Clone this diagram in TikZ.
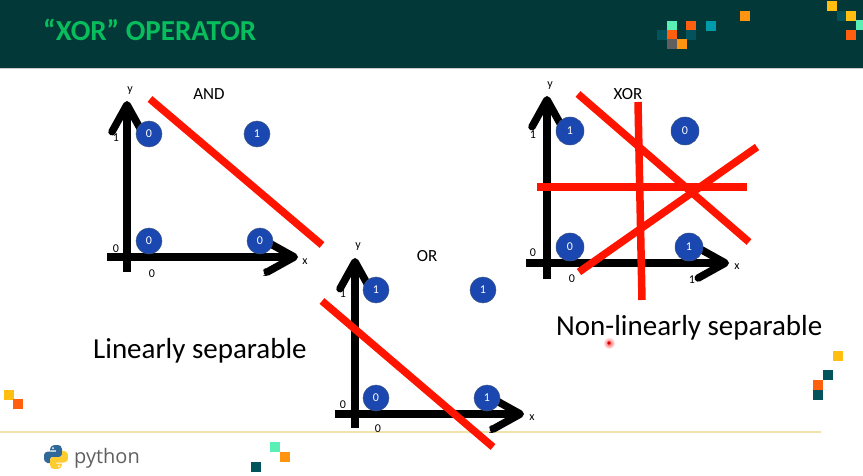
\documentclass[tikz,border=0pt]{standalone}
\usepackage{fontspec}
\setmainfont{Carlito}
\newfontfamily\logofont{Open Sans}
\usetikzlibrary{arrows.meta}
\definecolor{xhead}{RGB}{2,56,56}
\definecolor{xtitle}{RGB}{8,190,92}
\definecolor{xbit}{RGB}{27,71,176}
\definecolor{xbitedge}{RGB}{60,85,130}
\definecolor{xred}{RGB}{255,20,0}
\definecolor{xrule}{RGB}{240,228,170}
\definecolor{xmint}{RGB}{90,240,181}
\definecolor{xfire}{RGB}{255,95,15}
\definecolor{xamber}{RGB}{255,148,16}
\definecolor{xgold}{RGB}{255,190,16}
\definecolor{xteal}{RGB}{0,155,170}
\definecolor{xdeep}{RGB}{2,83,92}
\definecolor{xgrey}{RGB}{95,95,95}
\definecolor{pyblue}{RGB}{48,105,152}
\definecolor{pyyellow}{RGB}{255,204,48}
\tikzset{
  axisline/.style={line width=7.5pt,-{Straight Barb[round,length=27pt,width=30pt]}},
  cutline/.style={xred,line width=7.5pt},
  bitnode/.style={circle,fill=xbit,draw=xbitedge,line width=0.5pt,text=white,minimum size=26pt,inner sep=0pt,font=\fontsize{12}{14}\selectfont},
  ticklabel/.style={inner sep=0pt,font=\fontsize{12}{14}\selectfont},
  namelabel/.style={inner sep=0pt,font=\fontsize{17}{20}\selectfont},
  biglabel/.style={inner sep=0pt,font=\fontsize{29}{35}\selectfont},
  pixel/.style={minimum size=9.7pt,inner sep=0pt,anchor=north west}
}
\begin{document}
\begin{tikzpicture}[x=1pt,y=-1pt]
  \useasboundingbox (0,0) rectangle (863,476);
  % header band
  \fill[xhead] (0,0) rectangle (863,68);
  \fill[black!20] (0,68) rectangle (863,69);
  \node[anchor=base west,inner sep=0pt,text=xtitle,font=\fontsize{29}{34}\selectfont\bfseries] (title) at (43,41) {“XOR” OPERATOR};
  \coordinate (ruleL) at (0,432);
  \coordinate (ruleR) at (821,432);
  \draw[xrule,line width=1.3pt] (ruleL) -- (ruleR);
  % little squares
  \foreach \px/\py/\pc in {667/21/xmint,686/21/xfire,706/21/xteal,740/11/xamber,657/30/xdeep,
    667/30/xfire,686/30/xdeep,667/39/xgrey,677/39/xamber,827/1/xgold,837/11/xdeep,846/11/xgold,
    856/20/xmint,846/30/xfire,4/390/xgold,13/399/xfire,833/351/xgold,823/370/xdeep,813/380/xfire,
    813/390/xdeep,270/442/xmint,280/452/xamber,251/462/xdeep}
    \node[pixel,fill=\pc] at (\px,\py) {};
  % AND
  \coordinate (andB) at (127,272);
  \coordinate (andT) at (127,101);
  \coordinate (andL) at (107,257);
  \coordinate (andR) at (298,257);
  \draw[axisline] (andB) -- (andT);
  \draw[axisline] (andL) -- (andR);
  \node[bitnode] (and01) at (149,134) {0};
  \node[bitnode] (and11) at (257,134) {1};
  \node[bitnode] (and00) at (149,241) {0};
  \node[bitnode] (and10) at (260,241) {0};
  \node[ticklabel] (andy) at (130,91) {y};
  \node[namelabel] (andname) at (209,94) {AND};
  \node[ticklabel] (andv1) at (116,138) {1};
  \node[ticklabel] (andv0) at (116,249) {0};
  \node[ticklabel] (andh0) at (152,274) {0};
  \node[ticklabel] (andh1) at (265,273) {1};
  \node[ticklabel] (andx) at (305,262) {x};
  \coordinate (andcutA) at (150,99);
  \coordinate (andcutB) at (322,245);
  \draw[cutline] (andcutA) -- (andcutB);
  % OR
  \coordinate (orB) at (355,428);
  \coordinate (orT) at (355,258);
  \coordinate (orL) at (335,414);
  \coordinate (orR) at (524,414);
  \draw[axisline] (orB) -- (orT);
  \draw[axisline] (orL) -- (orR);
  \node[bitnode] (or01) at (376,290) {1};
  \node[bitnode] (or11) at (483,290) {1};
  \node[bitnode] (or00) at (376,398) {0};
  \node[bitnode] (or10) at (487,398) {1};
  \node[ticklabel] (ory) at (358,247) {y};
  \node[namelabel] (orname) at (427,256) {OR};
  \node[ticklabel] (orv1) at (343,294) {1};
  \node[ticklabel] (orv0) at (343,405) {0};
  \node[ticklabel] (orh0) at (378,429) {0};
  \node[ticklabel] (orh1) at (491,430) {1};
  \node[ticklabel] (orx) at (532,418) {x};
  \coordinate (orcutA) at (322,301);
  \coordinate (orcutB) at (493,447);
  \draw[cutline] (orcutA) -- (orcutB);
  % XOR
  \coordinate (xorB) at (547,279);
  \coordinate (xorT) at (547,96);
  \coordinate (xorL) at (526,263);
  \coordinate (xorR) at (729,263);
  \draw[axisline] (xorB) -- (xorT);
  \draw[axisline] (xorL) -- (xorR);
  \node[bitnode,minimum size=28pt] (xor01) at (570,131) {1};
  \node[bitnode,minimum size=28pt] (xor11) at (685,131) {0};
  \node[bitnode,minimum size=28pt] (xor00) at (570,247) {0};
  \node[bitnode,minimum size=28pt] (xor10) at (689,247) {1};
  \node[ticklabel] (xory) at (550,86) {y};
  \node[namelabel] (xorname) at (628,94) {XOR};
  \node[ticklabel] (xorv1) at (533,135) {1};
  \node[ticklabel] (xorv0) at (533,253) {0};
  \node[ticklabel] (xorh0) at (572,279) {0};
  \node[ticklabel] (xorh1) at (692,280) {1};
  \node[ticklabel] (xorx) at (737,267) {x};
  \coordinate (xorcutA) at (578,94);
  \coordinate (xorcutB) at (749,242);
  \coordinate (xorcutC) at (638,102);
  \coordinate (xorcutD) at (642,300);
  \coordinate (xorcutE) at (537,187);
  \coordinate (xorcutF) at (747,187);
  \coordinate (xorcutG) at (579,272);
  \coordinate (xorcutH) at (757,147);
  \draw[cutline] (xorcutA) -- (xorcutB);
  \draw[cutline] (xorcutC) -- (xorcutD);
  \draw[cutline] (xorcutE) -- (xorcutF);
  \draw[cutline] (xorcutG) -- (xorcutH);
  % captions
  \node[biglabel,anchor=base west] (linsep) at (93,358) {Linearly separable};
  \node[biglabel,anchor=base west] (nonsep) at (556,335) {Non-linearly separable};
  % pointer
  \shade[inner color=red!70,outer color=white] (609,343) circle (6);
  \fill[red!85!black] (609,343) circle (1.8);
  % python logo
  \foreach \lc/\la in {pyblue/0,pyyellow/180}{
    \begin{scope}[rotate around={\la:(56,457)}]
      \fill[\lc] (50,451) .. controls (50,446.5) and (52,445) .. (56,445)
        .. controls (60.5,445) and (62,446.5) .. (62,449) -- (62,454)
        .. controls (62,456) and (61,457) .. (59,457) -- (53,457)
        .. controls (51,457) and (50,458) .. (50,460) -- (50,463) -- (47.5,463)
        .. controls (45,463) and (44,460.5) .. (44,457)
        .. controls (44,453) and (45.5,451.5) .. (48,451.5) -- (56,451.5) -- (56,450.3) -- (50,450.3) -- cycle;
      \fill[white] (53,448) circle (1);
    \end{scope}
  }
  \node[anchor=base west,inner sep=0pt,text=xgrey,font=\logofont\fontsize{20}{24}\selectfont] (pylabel) at (74,463) {python};
\end{tikzpicture}
\end{document}
